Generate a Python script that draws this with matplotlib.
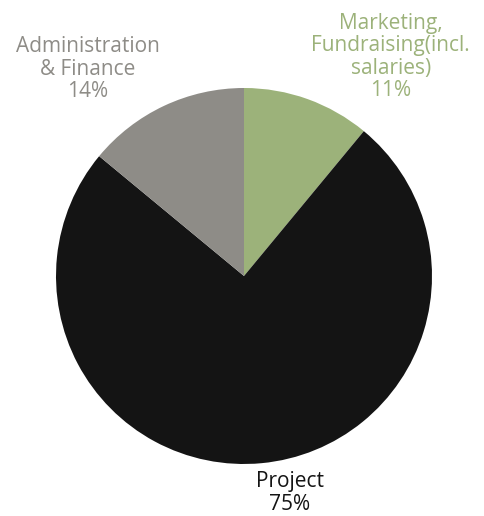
import matplotlib
matplotlib.use("Agg")
import matplotlib.pyplot as plt

categories = ["Marketing,\nFundraising(incl.\nsalaries)", "Project", "Administration\n& Finance"]
shares = [11, 75, 14]
colors = ["#9cb27a", "#141414", "#8e8c87"]

# label positions in pie units (radius = 1)
label_pos = [(0.78, 1.165), (0.245, -1.155), (-0.83, 1.10)]

plt.rcParams['font.family'] = ['Open Sans', 'DejaVu Sans']

fig = plt.figure(figsize=(4.85, 5.16), dpi=100)
ax = fig.add_axes([56 / 485, 52 / 516, 376 / 485, 376 / 516])

ax.pie(shares, colors=colors, startangle=90, counterclock=False,
       wedgeprops=dict(linewidth=0))

for cat, val, col, (x, y) in zip(categories, shares, colors, label_pos):
    ax.text(x, y, f"{cat}\n{val}%", color=col, ha="center", va="center",
            fontsize=15, linespacing=1.08, clip_on=False)

ax.set_xlim(-1, 1)
ax.set_ylim(-1, 1)
ax.set_aspect("equal")
ax.axis("off")

fig.savefig("out.png", dpi=100)
